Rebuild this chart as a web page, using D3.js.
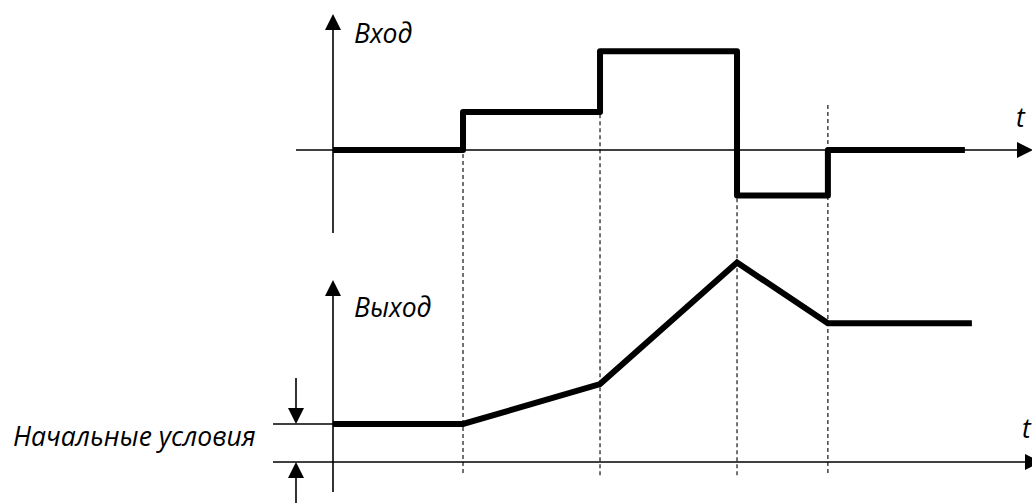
<!DOCTYPE html>
<html>
<head>
<meta charset="utf-8">
<script src="https://cdn.jsdelivr.net/npm/d3@7"></script>
<style>
  body { margin: 0; background: #fff; }
  text { font-family: "Open Sans", Lato, sans-serif; font-style: italic; fill: #000; }
</style>
</head>
<body>
<div id="chart"></div>
<script>
// Step input and ramp output of an integrator-like block

// break points on the time axis (shared by both plots)
var times = [0, 18.6, 38.2, 57.8, 70.8, 90.4];
// input level after each break point
var inputLevels = [0, 1, 2.6, -1.2, 0, 0];
// output value at each break point (last one is the tail end)
var outputTimes = [0, 18.6, 38.2, 57.8, 70.8, 91.4];
var outputValues = [1.0, 1.0, 2.05, 5.25, 3.65, 3.65];
// guide lines dropped from the switching moments
var guideTimes = [18.6, 38.2, 57.8, 70.8];
var labels = { input: "Вход", output: "Выход", initial: "Начальные условия", time: "t" };

var width = 1032, height = 503;
var fontSize = 26.5;

var svg = d3.select("#chart").append("svg")
    .attr("width", width)
    .attr("height", height);

var x = d3.scaleLinear().domain([0, 100]).range([333, 1032]);
var yIn = d3.scaleLinear().domain([0, 1]).range([150, 112]);
var yOut = d3.scaleLinear().domain([0, 1]).range([462, 424]);

// arrow head helper: tip at (tx,ty), pointing in dir
function arrow(tx, ty, dir) {
    var L = 16, W = 8, p;
    if (dir == "up") p = [[tx, ty], [tx - W, ty + L], [tx + W, ty + L]];
    else if (dir == "down") p = [[tx, ty], [tx - W, ty - L], [tx + W, ty - L]];
    else p = [[tx, ty], [tx - L, ty - W], [tx - L, ty + W]];
    svg.append("path").attr("d", "M" + p.join("L") + "Z").attr("fill", "#000");
}
function line(x1, y1, x2, y2, w) {
    return svg.append("line")
        .attr("x1", x1).attr("y1", y1).attr("x2", x2).attr("y2", y2)
        .attr("stroke", "#000").attr("stroke-width", w || 1.6);
}

// dashed guides
guideTimes.forEach(function(t, i) {
    var top = i == 3 ? 105 : Math.min(yIn(inputLevels[i]), yIn(inputLevels[i + 1]));
    line(x(t), top, x(t), 476, 1.1).attr("stroke-dasharray", "4,3");
});

// ---- top plot: input ----
line(x(0), 233, x(0), 28);
arrow(x(0), 14, "up");
line(296, yIn(0), 1018, yIn(0));
arrow(1033, yIn(0), "right");

var inputData = times.map(function(t, i) { return [t, inputLevels[i]]; });
svg.append("path")
    .datum(inputData)
    .attr("fill", "none")
    .attr("stroke", "#000")
    .attr("stroke-width", 6)
    .attr("stroke-linejoin", "round")
    .attr("d", d3.line()
        .x(function(d) { return x(d[0]); })
        .y(function(d) { return yIn(d[1]); })
        .curve(d3.curveStepAfter));

svg.append("text").attr("x", 354).attr("y", 43).attr("font-size", fontSize).text(labels.input);
svg.append("text").attr("x", 1016).attr("y", 127).attr("font-size", fontSize).text(labels.time);

// ---- bottom plot: output ----
line(x(0), 492, x(0), 294);
arrow(x(0), 280, "up");
line(273, yOut(0), 1026, yOut(0));
arrow(1041, yOut(0), "right");
line(273, yOut(outputValues[0]), x(0), yOut(outputValues[0]));

var outputData = outputTimes.map(function(t, i) { return [t, outputValues[i]]; });
svg.append("path")
    .datum(outputData)
    .attr("fill", "none")
    .attr("stroke", "#000")
    .attr("stroke-width", 6)
    .attr("stroke-linejoin", "miter")
    .attr("d", d3.line()
        .x(function(d) { return x(d[0]); })
        .y(function(d) { return yOut(d[1]); }));

// initial condition dimension arrows
line(296, 378, 296, yOut(outputValues[0]) - 14);
arrow(296, yOut(outputValues[0]), "down");
line(296, yOut(0) + 14, 296, 503);
arrow(296, yOut(0), "up");

svg.append("text").attr("x", 354).attr("y", 317).attr("font-size", fontSize).text(labels.output);
svg.append("text").attr("x", 13).attr("y", 446).attr("font-size", fontSize).text(labels.initial);
svg.append("text").attr("x", 1022).attr("y", 438).attr("font-size", fontSize).text(labels.time);
</script>
</body>
</html>
